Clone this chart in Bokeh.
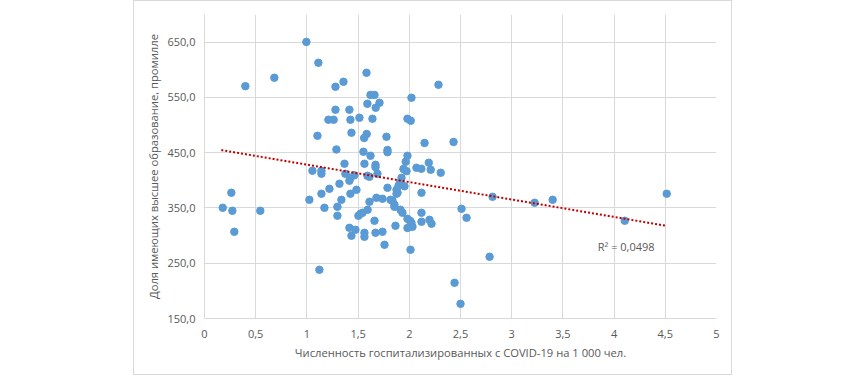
from bokeh.plotting import figure
from bokeh.models import FixedTicker, CustomJSTickFormatter, Label, Range1d
from bokeh.embed import file_html
from bokeh.resources import INLINE

# Hospitalised with COVID-19 per 1 000 people
hosp_rate = [
    0.399, 0.682, 0.995, 1.112, 1.582, 1.357, 1.279, 1.621, 1.660, 2.021,
    1.591, 1.709, 1.672, 1.279, 1.415, 1.210, 1.261, 1.425, 1.513, 1.640,
    1.982, 2.014, 1.103, 1.435, 1.584, 1.559, 1.777, 1.288, 1.552, 1.787,
    1.787, 1.621, 1.982, 2.149, 1.367, 1.562, 1.670, 1.670, 1.965, 1.943,
    1.973, 2.070, 2.118, 2.190, 2.209, 1.054, 1.142, 1.142, 1.376, 1.464,
    1.425, 1.415, 1.591, 1.611, 1.689, 1.220, 0.178, 0.262, 0.272, 0.291,
    0.545, 1.024, 1.142, 1.171, 1.318, 1.425, 1.484, 1.298, 1.337, 1.298,
    1.503, 1.523, 1.543, 1.593, 1.611, 1.415, 1.474, 1.435, 1.562, 1.562,
    1.660, 1.679, 1.738, 1.787, 1.670, 1.738, 1.758, 1.816, 1.836, 1.855,
    1.855, 1.875, 1.885, 1.895, 1.875, 1.865, 1.914, 1.933, 1.953, 1.924,
    1.908, 1.982, 2.007, 2.021, 1.982, 2.031, 2.012, 2.119, 2.119, 2.119,
    2.197, 2.217, 1.122, 2.510, 2.559, 2.813, 2.784, 2.442, 2.500, 3.224,
    3.400, 4.104, 4.514, 2.285, 2.432, 2.307,
]
# Share with higher education, per mille
higher_edu = [
    570.4, 585.6, 650.4, 612.7, 594.6, 578.3, 569.3, 554.5, 554.5, 549.4,
    538.5, 540.3, 531.3, 527.7, 527.7, 509.6, 509.6, 509.6, 513.2, 511.4,
    511.4, 507.8, 480.6, 486.1, 483.9, 476.6, 478.8, 455.8, 451.7, 454.9,
    450.9, 444.4, 444.4, 467.6, 430.0, 430.0, 428.1, 423.8, 433.6, 420.5,
    416.6, 422.7, 420.9, 431.8, 419.1, 417.3, 417.3, 411.9, 411.9, 409.1,
    404.6, 399.2, 408.2, 406.4, 411.9, 384.7, 350.3, 377.5, 344.9, 306.9,
    344.9, 364.8, 375.7, 350.3, 393.8, 375.7, 382.9, 352.1, 364.8, 335.9,
    335.9, 339.5, 341.3, 346.7, 361.2, 314.1, 310.5, 299.7, 305.1, 297.8,
    326.8, 368.4, 366.6, 386.5, 305.1, 306.9, 283.4, 364.8, 363.0, 355.8,
    352.1, 382.9, 377.5, 390.1, 375.6, 317.8, 346.7, 341.3, 389.2, 404.6,
    395.6, 330.4, 326.8, 323.2, 313.8, 315.9, 274.3, 377.5, 341.3, 325.0,
    328.6, 321.4, 238.1, 348.5, 332.2, 370.2, 261.7, 214.6, 176.6, 359.4,
    364.8, 326.8, 375.7, 572.9, 469.4, 413.7,
]

# Linear trend line ends
trend_x = [0.164, 4.50]
trend_y = [454.7, 318.0]
r2_text = "R² = 0,0498"

x_ticks = [0, 0.5, 1, 1.5, 2, 2.5, 3, 3.5, 4, 4.5, 5]
y_ticks = [150, 250, 350, 450, 550, 650]

FONT = "Open Sans"
TXT = "#595959"
GRID = "#d9d9d9"

p = figure(width=599, height=375, output_backend="svg", toolbar_location=None,
           x_range=Range1d(0, 5), y_range=Range1d(150, 700),
           min_border_left=70, min_border_right=17,
           min_border_top=13, min_border_bottom=58)
p.styles = {"border": "1px solid #d9d9d9", "margin-left": "133px"}
p.outline_line_color = None
p.background_fill_color = "white"
p.border_fill_color = "white"

p.xaxis.ticker = FixedTicker(ticks=x_ticks)
p.yaxis.ticker = FixedTicker(ticks=y_ticks)
p.xaxis.formatter = CustomJSTickFormatter(code="return String(tick).replace('.', ',');")
p.yaxis.formatter = CustomJSTickFormatter(code="return tick.toFixed(1).replace('.', ',');")

for ax in (p.xaxis, p.yaxis):
    ax.axis_line_color = GRID
    ax.major_tick_line_color = None
    ax.minor_tick_line_color = None
    ax.major_tick_in = 0
    ax.major_tick_out = 0
    ax.major_label_text_font = FONT
    ax.major_label_text_font_size = "11px"
    ax.major_label_text_color = TXT
    ax.axis_label_text_font = FONT
    ax.axis_label_text_font_size = "11.2px"
    ax.axis_label_text_color = TXT
    ax.axis_label_text_font_style = "normal"

p.xaxis.axis_label = "Численность госпитализированных с COVID-19 на 1 000 чел."
p.yaxis.axis_label = "Доля имеющих высшее образование, промилле"
p.xaxis.major_label_standoff = 11
p.yaxis.major_label_standoff = 9
p.xaxis.axis_label_standoff = 4
p.yaxis.axis_label_standoff = 3

p.xgrid.grid_line_color = GRID
p.ygrid.grid_line_color = GRID
p.xgrid.ticker = FixedTicker(ticks=x_ticks)
p.ygrid.ticker = FixedTicker(ticks=y_ticks)

p.scatter(hosp_rate, higher_edu, size=7.5, marker="circle",
          fill_color="#5b9bd5", line_color="#5b9bd5")
p.line(trend_x, trend_y, line_color="#c00000", line_width=2, line_dash="2 2")

p.add_layout(Label(x=3.84, y=280.3, text=r2_text, text_font=FONT,
                   text_font_size="11px", text_color=TXT,
                   text_baseline="middle", text_align="left"))

open("out.html", "w").write(file_html(p, INLINE))
